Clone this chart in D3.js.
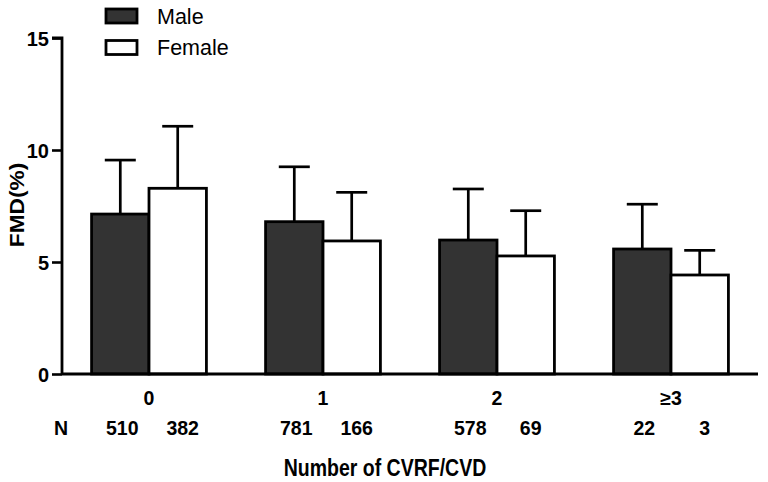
<!DOCTYPE html>
<html>
<head>
<meta charset="utf-8">
<script src="https://cdn.jsdelivr.net/npm/d3@7/dist/d3.min.js"></script>
<style>
  html, body { margin: 0; padding: 0; background: #fff; }
  svg text { font-family: "Liberation Sans", Arial, sans-serif; }
</style>
</head>
<body>
<svg id="chart" width="768" height="482"></svg>
<script>
const categories = ["0", "1", "2", "\u22653"];
const seriesNames = ["Male", "Female"];
const maleMean = [7.14, 6.80, 5.98, 5.58];
const maleSD   = [2.41, 2.45, 2.28, 2.00];
const femaleMean = [8.29, 5.94, 5.27, 4.42];
const femaleSD   = [2.77, 2.17, 2.02, 1.10];
const maleN = ["510", "781", "578", "22"];
const femaleN = ["382", "166", "69", "3"];
const yTicks = [0, 5, 10, 15];

const svg = d3.select("#chart");
const x0 = 62, x1 = 758, yTop = 38, yBot = 374;

const x = d3.scaleBand().domain(categories).range([x0, x1]).paddingInner(0.34).paddingOuter(0.17);
const xs = d3.scaleBand().domain(seriesNames).range([0, x.bandwidth()]).padding(0);
const y = d3.scaleLinear().domain([0, 15]).range([yBot, yTop]);

const data = [];
categories.forEach((c, i) => {
  data.push({cat: c, s: "Male", m: maleMean[i], sd: maleSD[i], n: maleN[i]});
  data.push({cat: c, s: "Female", m: femaleMean[i], sd: femaleSD[i], n: femaleN[i]});
});
const fill = {Male: "#333333", Female: "#ffffff"};

// error bars (behind bars)
const capW = 31;
const eb = svg.append("g").attr("stroke", "#000").attr("stroke-width", 2.7);
data.forEach(d => {
  const cx = x(d.cat) + xs(d.s) + xs.bandwidth() / 2;
  eb.append("line").attr("x1", cx).attr("x2", cx).attr("y1", y(d.m)).attr("y2", y(d.m + d.sd));
  eb.append("line").attr("x1", cx - capW / 2).attr("x2", cx + capW / 2).attr("y1", y(d.m + d.sd)).attr("y2", y(d.m + d.sd));
});

// bars
svg.append("g").selectAll("rect").data(data).join("rect")
  .attr("x", d => x(d.cat) + xs(d.s))
  .attr("width", xs.bandwidth())
  .attr("y", d => y(d.m))
  .attr("height", d => y(0) - y(d.m))
  .attr("fill", d => fill[d.s])
  .attr("stroke", "#000")
  .attr("stroke-width", 2.8);

// y axis
const ya = svg.append("g").attr("transform", `translate(${x0},0)`)
  .call(d3.axisLeft(y).tickValues(yTicks).tickSize(10).tickPadding(3).tickFormat(d3.format("d")));
ya.select(".domain").attr("stroke", "#000").attr("stroke-width", 2.8).attr("d", `M-10,${yTop}H0V${yBot}`);
ya.selectAll(".tick line").attr("stroke", "#000").attr("stroke-width", 2.6);
ya.selectAll(".tick text").attr("font-size", 20).attr("font-weight", "bold").attr("fill", "#000")
  .attr("font-family", "Liberation Sans, Arial, sans-serif").attr("dy", "0.36em");

// x axis line
svg.append("line").attr("x1", x0).attr("x2", x1).attr("y1", yBot).attr("y2", yBot)
  .attr("stroke", "#000").attr("stroke-width", 2.8);

// category labels
svg.append("g").selectAll("text").data(categories).join("text")
  .attr("x", d => x(d) + x.bandwidth() / 2).attr("y", 405)
  .attr("text-anchor", "middle").attr("font-size", 19.5).attr("font-weight", "bold").text(d => d);

// N row
svg.append("text").attr("x", 61).attr("y", 435).attr("text-anchor", "middle")
  .attr("font-size", 19.5).attr("font-weight", "bold").text("N");
svg.append("g").selectAll("text").data(data).join("text")
  .attr("x", d => x(d.cat) + xs(d.s) + xs.bandwidth() / 2 + (d.s === "Male" ? 2 : 5)).attr("y", 435)
  .attr("text-anchor", "middle").attr("font-size", 19.5).attr("font-weight", "bold")
  .text(d => d.n);

// axis titles
svg.append("text").attr("transform", "translate(385,476) scale(0.83,1)").attr("text-anchor", "middle")
  .attr("font-size", 23.5).attr("font-weight", "bold").text("Number of CVRF/CVD");
svg.append("text").attr("transform", "translate(24,205) rotate(-90) scale(1.08,1)").attr("text-anchor", "middle")
  .attr("font-size", 21).attr("font-weight", "bold").text("FMD(%)");

// legend
const lg = svg.append("g");
seriesNames.forEach((s, i) => {
  const yy = 9 + i * 31.5;
  lg.append("rect").attr("x", 106).attr("y", yy).attr("width", 31).attr("height", 14)
    .attr("fill", fill[s]).attr("stroke", "#000").attr("stroke-width", 2.8);
  lg.append("text").attr("x", 157).attr("y", yy + 14.5).attr("font-size", 21.5).text(s);
});
</script>
</body>
</html>
